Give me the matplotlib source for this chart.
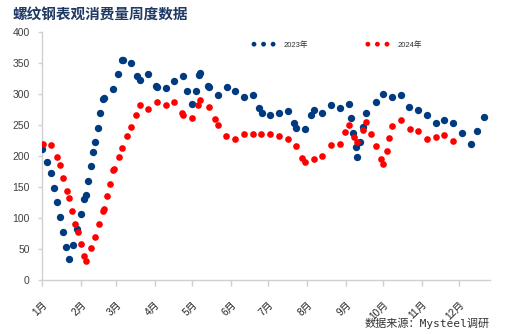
import matplotlib
matplotlib.use("Agg")
import matplotlib.pyplot as plt

# ---- data (x = day of year, y = weekly apparent consumption, 10k t) ----
days_2023 = [0, 4.0, 7.0, 9.1, 11.5, 13.9, 16.3, 18.7, 21.1, 24.3, 27.8, 31.0, 33.6, 34.8,
             36.8, 39.0, 40.8, 42.0, 44.4, 46.5, 48.9, 49.2, 56.9, 60.4, 63.8, 64.4, 70.8,
             76.1, 78.0, 84.7, 91.3, 92.1, 98.8, 105.7, 112.7, 116.1, 119.7, 122.9, 125.8,
             126.6, 133.0, 133.8, 140.5, 147.7, 154.6, 161.6, 168.5, 173.8, 175.7, 182.6,
             189.6, 196.6, 201.6, 203.4, 210.4, 215.2, 217.4, 224.4, 231.5, 238.4, 245.4,
             247.3, 249.1, 251.0, 252.3, 254.7, 256.9, 259.3, 267.3, 273.1, 280.1, 287.1,
             294.0, 300.9, 307.9, 315.1, 322.0, 329.0, 335.9, 343.1, 348.4, 353.5]
vals_2023 = [212, 190, 172, 149, 126, 101, 78, 54, 34, 56, 82, 107, 130, 137,
             160, 184, 207, 223, 246, 269, 292, 294, 309, 332, 356, 355, 350,
             330, 323, 333, 314, 311, 310, 321, 329, 306, 284, 305, 331,
             334, 313, 311, 298, 312, 305, 295, 298, 277, 269, 267,
             270, 273, 253, 246, 244, 266, 274, 270, 282, 278, 285,
             261, 238, 215, 199, 223, 247, 269, 287, 300, 296, 298,
             279, 274, 267, 253, 259, 253, 238, 220, 241, 263]

days_2024 = [0.3, 7.2, 11.5, 14.2, 16.8, 19.5, 21.1, 23.8, 26.4, 28.4, 31.0, 33.6, 35.0,
             38.8, 42.2, 45.4, 48.4, 49.2, 51.8, 54.2, 56.9, 57.4, 61.2, 64.1, 68.1, 70.8,
             74.8, 78.0, 84.9, 91.9, 98.8, 105.7, 111.7, 112.9, 119.9, 124.5, 126.6, 133.5,
             138.3, 140.5, 147.4, 154.6, 161.6, 168.5, 175.4, 182.6, 189.6, 196.6, 203.4,
             208.3, 210.4, 217.4, 224.4, 231.0, 238.2, 242.7, 245.4, 249.9, 252.3, 256.6,
             259.3, 263.5, 267.5, 271.5, 273.1, 275.8, 277.9, 280.1, 287.1, 294.3, 301.2,
             308.2, 315.1, 322.0, 329.0]
vals_2024 = [219, 218, 199, 186, 165, 144, 132, 112, 91, 78, 58, 38, 31,
             51, 70, 90, 111, 115, 135, 155, 177, 180, 199, 213, 232, 247,
             267, 282, 276, 287, 282, 288, 270, 266, 262, 282, 291, 279,
             260, 251, 232, 227, 236, 236, 235, 236, 233, 227, 216,
             197, 191, 196, 200, 218, 219, 239, 251, 231, 223, 243,
             255, 236, 216, 196, 188, 209, 230, 249, 258, 244, 241,
             228, 231, 234, 225]

month_start_days = [0, 31, 59, 90, 120, 151, 181, 212, 243, 273, 304, 334]
month_labels = ["1月", "2月", "3月", "4月", "5月", "6月", "7月", "8月", "9月", "10月", "11月", "12月"]
y_ticks = [0, 50, 100, 150, 200, 250, 300, 350, 400]
series_names = ["2023年", "2024年"]

title_text = "螺纹钢表观消费量周度数据"
source_text = "数据来源：Mysteel调研"

BLUE = "#003a80"
RED = "#ff0000"
AXIS_GREY = "#d0d0d0"
TEXT_GREY = "#404040"

fig = plt.figure(figsize=(5.05, 3.34), dpi=100)
ax = fig.add_axes([42.3 / 505, 1 - 280 / 334, (490 - 42.3) / 505, (280 - 32.3) / 334])

ax.scatter(days_2023, vals_2023, s=28, c=BLUE, linewidths=0, zorder=3)
ax.scatter(days_2024, vals_2024, s=23, c=RED, linewidths=0, zorder=4)

ax.set_xlim(0, 358.6)
ax.set_ylim(0, 400)

ax.set_yticks(y_ticks)
ax.set_yticklabels([str(v) for v in y_ticks], fontsize=7.5, color=TEXT_GREY,
                   family=["Liberation Sans", "DejaVu Sans"])
ax.set_xticks(month_start_days)
ax.set_xticklabels(month_labels, rotation=45, ha="right", rotation_mode="anchor",
                   fontsize=7.2, color="#202020",
                   family=["Liberation Sans", "Noto Sans CJK SC"])

for side in ["top", "right"]:
    ax.spines[side].set_visible(False)
for side in ["left", "bottom"]:
    ax.spines[side].set_color(AXIS_GREY)
    ax.spines[side].set_linewidth(1.0)
ax.tick_params(axis="y", length=3, width=1, color=AXIS_GREY, pad=6)
ax.tick_params(axis="x", length=4, width=1, color=AXIS_GREY, pad=10)

# legend with three dots per entry
h1 = ax.scatter([], [], s=12, c=BLUE, linewidths=0, label=series_names[0])
h2 = ax.scatter([], [], s=12, c=RED, linewidths=0, label=series_names[1])
fs_px = 5.5 * 100 / 72
leg = fig.legend(handles=[h1, h2], loc="center left",
                 bbox_to_anchor=((254 - 0.3 * fs_px) / 505, 1 - 45 / 334),
                 ncol=2, frameon=False, scatterpoints=3, scatteryoffsets=[0.5],
                 handlelength=3.1, handletextpad=1.1, columnspacing=7.5,
                 borderpad=0, borderaxespad=0,
                 prop={"family": ["Liberation Sans", "Noto Sans CJK SC"], "size": 5.5})
for t in leg.get_texts():
    t.set_color("#303030")

fig.text(12.7 / 505, 1 - 14 / 334, title_text, ha="left", va="center",
         fontsize=10.5, fontweight="bold", color="#1f3864", family="Noto Sans CJK SC")
fig.text(490 / 505, 1 - 323.5 / 334, source_text, ha="right", va="center",
         fontsize=8, color="#333333",
         family=["DejaVu Sans Mono", "Noto Sans CJK SC"])

fig.savefig("out.png", dpi=100)
